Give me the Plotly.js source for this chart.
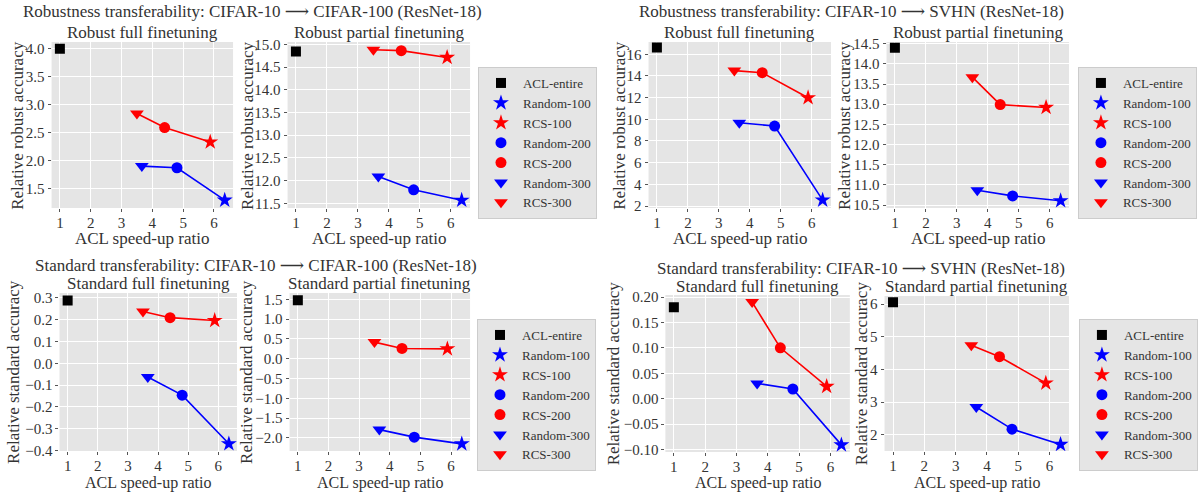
<!DOCTYPE html>
<html>
<head>
<meta charset="utf-8">
<script src="https://cdn.plot.ly/plotly-3.0.1.min.js"></script>
<style>html,body{margin:0;padding:0;background:#fff;}#chart{width:1198px;height:493px;}</style>
</head>
<body>
<div id="chart"></div>
<script>
// ---- data ----
const methods = ['ACL-entire', 'Random-100', 'RCS-100', 'Random-200', 'RCS-200', 'Random-300', 'RCS-300'];
const speedup = [1.00, 6.35, 5.88, 4.80, 4.40, 3.66, 3.50];
const robustFullC100      = [4.00, 1.29, 2.33, 1.87, 2.59, 1.90, 2.84];
const robustPartialC100   = [14.84, 11.57, 14.71, 11.80, 14.86, 12.09, 14.88];
const robustFullSVHN      = [16.62, 2.55, 11.99, 9.38, 14.30, 9.68, 14.49];
const robustPartialSVHN   = [14.40, 10.61, 12.92, 10.73, 12.99, 10.87, 13.67];
const standardFullC100    = [0.288, -0.369, 0.196, -0.146, 0.209, -0.063, 0.237];
const standardPartialC100 = [1.48, -2.15, 0.25, -1.98, 0.26, -1.79, 0.42];
const standardFullSVHN    = [0.180, -0.091, 0.024, 0.019, 0.100, 0.030, 0.190];
const standardPartialSVHN = [6.06, 1.70, 3.58, 2.17, 4.39, 2.85, 4.74];
const randomIdx = [5, 3, 1];   // Random-300, Random-200, Random-100
const rcsIdx = [6, 4, 2];      // RCS-300, RCS-200, RCS-100
const suptitles = [
  'Robustness transferability: CIFAR-10 \u27F6 CIFAR-100 (ResNet-18)',
  'Robustness transferability: CIFAR-10 \u27F6 SVHN (ResNet-18)',
  'Standard transferability: CIFAR-10 \u27F6 CIFAR-100 (ResNet-18)',
  'Standard transferability: CIFAR-10 \u27F6 SVHN (ResNet-18)'
];
const subtitles = ['Robust full finetuning', 'Robust partial finetuning', 'Robust full finetuning', 'Robust partial finetuning',
  'Standard full finetuning', 'Standard partial finetuning', 'Standard full finetuning', 'Standard partial finetuning'];
const yTitles = ['Relative robust accuracy', 'Relative robust accuracy', 'Relative robust accuracy', 'Relative robust accuracy',
  'Relative standard accuracy', 'Relative standard accuracy', 'Relative standard accuracy', 'Relative standard accuracy'];
const xTitle = 'ACL speed-up ratio';
const panels = [robustFullC100, robustPartialC100, robustFullSVHN, robustPartialSVHN,
  standardFullC100, standardPartialC100, standardFullSVHN, standardPartialSVHN];

// ---- styling / layout ----
const W = 1198, H = 493;
const FONT = '"Liberation Serif", "DejaVu Serif", serif';
const TXT = '#333333';
const symbols = ['square', 'star', 'star', 'circle', 'circle', 'triangle-down', 'triangle-down'];
const colors = ['black', 'blue', 'red', 'blue', 'red', 'blue', 'red'];
const sizes = [10, 12, 12, 11, 11, 12, 12];
// plot boxes in pixels: [left, right, top, bottom]
const boxes = [
  [52, 235, 42, 208], [290, 474, 42, 208], [654, 838, 42, 208], [894, 1078, 42, 208],
  [60, 239, 293, 451], [292, 474, 293, 451], [671, 857, 295, 452], [892, 1078, 296, 451]
];
const yRanges = [[1.15, 4.12], [11.40, 15.05], [1.82, 17.13], [10.43, 14.54],
  [-0.402, 0.322], [-2.33, 1.66], [-0.105, 0.204], [1.50, 6.25]];
const yDtick = [0.5, 0.5, 2, 0.5, 0.1, 0.5, 0.05, 1];
const yFmt = ['.1f', '.1f', 'd', '.1f', '.1f', '.1f', '.2f', 'd'];
const legendFor = {1: 'legend', 3: 'legend2', 5: 'legend3', 7: 'legend4'};
const yTitleX = [17, 249, 624, 851, 13, 248, 619, 869];
const subTitleY = [32, 32, 32, 32, 283, 283, 286, 286];
const xTitleY = [238, 238, 238, 238, null, null, null, null]; // null: anchored at the page bottom
const supPos = [[255, 12], [859, 12], [258, 265], [868, 268]];

const traces = [];
const layout = {
  width: W, height: H,
  margin: {l: 0, r: 0, t: 0, b: 0},
  paper_bgcolor: 'white', plot_bgcolor: '#E5E5E5',
  font: {family: FONT, size: 14, color: TXT},
  annotations: [],
  showlegend: true
};
const px = x => x / W, py = y => 1 - y / H;

panels.forEach((vals, p) => {
  const n = p + 1;
  const xa = n === 1 ? 'x' : 'x' + n, ya = n === 1 ? 'y' : 'y' + n;
  const b = boxes[p];
  layout[n === 1 ? 'xaxis' : 'xaxis' + n] = {
    domain: [px(b[0]), px(b[1])], anchor: ya, range: [0.73, 6.62],
    tickvals: [1, 2, 3, 4, 5, 6], ticks: 'outside', ticklen: 3, tickcolor: '#555',
    ticklabelstandoff: -2,
    gridcolor: 'white', gridwidth: 1, zeroline: false, showline: false,
    tickfont: {family: FONT, size: 15, color: TXT}
  };
  layout[n === 1 ? 'yaxis' : 'yaxis' + n] = {
    domain: [py(b[3]), py(b[2])], anchor: xa, range: yRanges[p],
    dtick: yDtick[p], tick0: 0, tickformat: yFmt[p], ticks: 'outside', ticklen: 3, tickcolor: '#555',
    gridcolor: 'white', gridwidth: 1, zeroline: false, showline: false,
    tickfont: {family: FONT, size: 15, color: TXT}
  };
  const leg = legendFor[p];
  // connecting lines
  [randomIdx, rcsIdx].forEach((idx, k) => {
    traces.push({
      type: 'scatter', mode: 'lines', xaxis: xa, yaxis: ya, showlegend: false, hoverinfo: 'skip',
      x: idx.map(i => speedup[i]), y: idx.map(i => vals[i]),
      line: {color: k === 0 ? 'blue' : 'red', width: 1.6}
    });
  });
  // markers, one trace per method
  methods.forEach((m, i) => {
    traces.push({
      type: 'scatter', mode: 'markers', xaxis: xa, yaxis: ya, name: m,
      x: [speedup[i]], y: [vals[i]],
      marker: {symbol: symbols[i], color: colors[i], size: sizes[i], line: {width: 0}},
      showlegend: !!leg, legend: leg || 'legend'
    });
  });
  // subplot title, axis titles
  layout.annotations.push({text: subtitles[p], x: px((b[0] + b[1]) / 2), y: py(subTitleY[p]), xref: 'paper', yref: 'paper',
    showarrow: false, xanchor: 'center', yanchor: 'middle', font: {family: FONT, size: 17, color: TXT}});
  const xt = xTitleY[p];
  layout.annotations.push({text: xTitle, x: px((b[0] + b[1]) / 2), y: xt === null ? 0 : py(xt), xref: 'paper', yref: 'paper',
    showarrow: false, xanchor: 'center', yanchor: xt === null ? 'bottom' : 'middle', borderpad: 0,
    font: {family: FONT, size: xt === null ? 16 : 17, color: TXT}});
  layout.annotations.push({text: yTitles[p], x: px(yTitleX[p]), y: py((b[2] + b[3]) / 2), xref: 'paper', yref: 'paper',
    showarrow: false, xanchor: 'center', yanchor: 'middle', textangle: -90, font: {family: FONT, size: 17, color: TXT}});
});
suptitles.forEach((t, i) => {
  layout.annotations.push({text: t, x: px(supPos[i][0]), y: py(supPos[i][1]), xref: 'paper', yref: 'paper',
    showarrow: false, xanchor: 'center', yanchor: 'middle', font: {family: FONT, size: 17, color: TXT}});
});
const legStyle = (x, y) => ({x: px(x), y: py(y), xanchor: 'left', yanchor: 'top', xref: 'paper', yref: 'paper',
  bgcolor: '#E5E5E5', bordercolor: '#CCCCCC', borderwidth: 1, font: {family: FONT, size: 13, color: TXT},
  itemwidth: 34, itemclick: false, itemdoubleclick: false});
layout.legend = legStyle(482, 67);
layout.legend2 = legStyle(1087, 67);
layout.legend3 = legStyle(481, 319);
layout.legend4 = legStyle(1088, 319);

Plotly.newPlot('chart', traces, layout, {displayModeBar: false, staticPlot: true});
</script>
</body>
</html>
